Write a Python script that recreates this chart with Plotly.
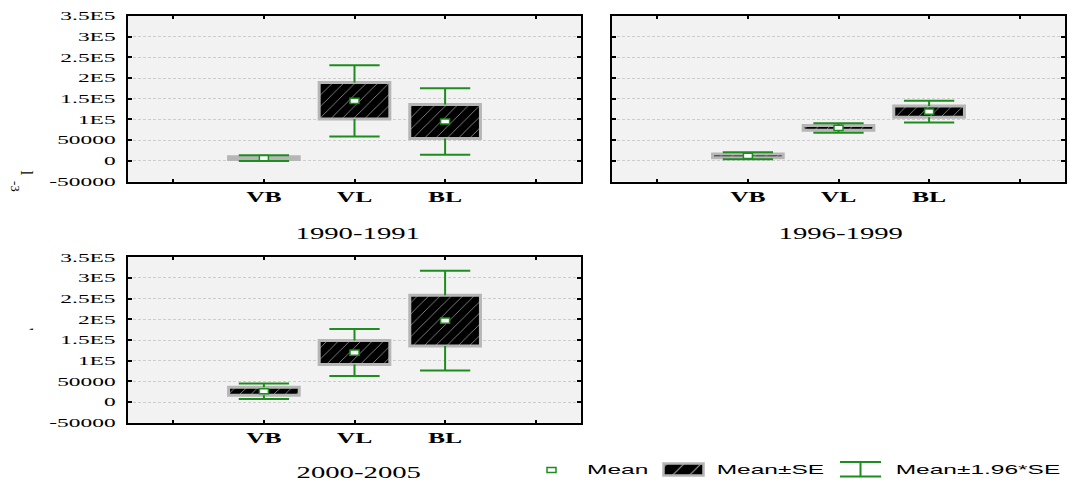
import json
import plotly.graph_objects as go

# ---- data -------------------------------------------------------------
categories = ["VB", "VL", "BL"]
periods = ["1990-1991", "1996-1999", "2000-2005"]

mean_1990 = [6500, 145000, 95000]
se_1990 = [3500, 44000, 41000]
mean_1996 = [12000, 79500, 119000]
se_1996 = [4300, 5900, 13500]
mean_2000 = [26000, 119500, 197000]
se_2000 = [9500, 29000, 61500]

y_tickvals = [-50000, 0, 50000, 100000, 150000, 200000, 250000, 300000, 350000]
y_ticktext = ["-50000", "0", "50000", "1E5", "1.5E5", "2E5", "2.5E5", "3E5", "3.5E5"]
legend_labels = ["Mean", "Mean±SE", "Mean±1.96*SE"]
Z = 1.96

# ---- styling ----------------------------------------------------------
W, H = 1070, 481
GREEN = "#1e8c1e"
BOX_EDGE = "#b6b6b6"
PANEL_BG = "#f2f2f2"
SERIF = "Liberation Serif, Times New Roman, serif"
SANS = "Liberation Sans, Arial, sans-serif"
HATCH = dict(shape="/", bgcolor="black", fgcolor="#9a9a9a", size=8,
             solidity=0.1, fillmode="replace")
BOX_W = 0.78
CAP_HALF = 0.2775


def px_x(px):
    return px / W


def px_y(py):
    return 1 - py / H


panels = [
    dict(mean=mean_1990, se=se_1990, xa="x", ya="y", title=periods[0],
         dom_x=(128, 581), dom_y=(16, 181.5), title_xy=(358, 233.5), labels=True),
    dict(mean=mean_1996, se=se_1996, xa="x2", ya="y2", title=periods[1],
         dom_x=(612, 1065), dom_y=(16, 181.5), title_xy=(841, 233.5), labels=False),
    dict(mean=mean_2000, se=se_2000, xa="x3", ya="y3", title=periods[2],
         dom_x=(128, 581), dom_y=(257.3, 422.7), title_xy=(359, 472.5), labels=True),
]

fig = go.Figure()
shapes = []
annotations = []
positions = list(range(1, len(categories) + 1))

for i, p in enumerate(panels):
    lo_se = [m - s for m, s in zip(p["mean"], p["se"])]
    hi_se = [m + s for m, s in zip(p["mean"], p["se"])]
    lo_ci = [m - Z * s for m, s in zip(p["mean"], p["se"])]
    hi_ci = [m + Z * s for m, s in zip(p["mean"], p["se"])]

    # whiskers (stems outside the box, plus caps)
    wx, wy = [], []
    for xp, a, b, c, d in zip(positions, lo_ci, lo_se, hi_se, hi_ci):
        wx += [xp, xp, None, xp, xp, None,
               xp - CAP_HALF, xp + CAP_HALF, None, xp - CAP_HALF, xp + CAP_HALF, None]
        wy += [a, b, None, c, d, None, a, a, None, d, d, None]
    fig.add_trace(go.Scatter(x=wx, y=wy, mode="lines", xaxis=p["xa"], yaxis=p["ya"],
                             line=dict(color=GREEN, width=2), hoverinfo="skip",
                             showlegend=False))

    # Mean±SE box
    fig.add_trace(go.Bar(x=positions, base=lo_se, y=[2 * s for s in p["se"]],
                         width=BOX_W, xaxis=p["xa"], yaxis=p["ya"],
                         marker=dict(color="black", pattern=HATCH,
                                     line=dict(color=BOX_EDGE, width=3)),
                         hoverinfo="skip", showlegend=False))

    # mean marker: small white rectangle with green outline
    for xp, m in zip(positions, p["mean"]):
        shapes.append(dict(type="rect", xref=p["xa"], yref=p["ya"],
                           xsizemode="pixel", xanchor=xp, x0=-4.5, x1=4.5,
                           ysizemode="pixel", yanchor=m, y0=-2.6, y1=2.6,
                           fillcolor="white", line=dict(color=GREEN, width=1.5),
                           layer="above"))

    # panel background
    shapes.append(dict(type="rect", xref=f"{p['xa']} domain", yref=f"{p['ya']} domain",
                       x0=0, x1=1, y0=0, y1=1, fillcolor=PANEL_BG,
                       line=dict(width=0), layer="below"))

    suffix = "" if i == 0 else str(i + 1)
    fig.update_layout(**{
        f"xaxis{suffix}": dict(
            domain=[px_x(p["dom_x"][0]), px_x(p["dom_x"][1])],
            anchor=p["ya"], range=[-0.5, len(categories) + 1.5],
            tickmode="array", tickvals=list(range(0, len(categories) + 2)),
            ticktext=[""] + categories + [""],
            showgrid=False, zeroline=False, showline=True, mirror="ticks",
            linecolor="black", linewidth=2, ticks="inside", ticklen=3,
            tickwidth=2, tickcolor="black", automargin=False,
            ticklabelstandoff=0,
            tickfont=dict(family=SERIF, size=15.5, color="black", weight="bold"),
            fixedrange=True),
        f"yaxis{suffix}": dict(
            domain=[px_y(p["dom_y"][1]), px_y(p["dom_y"][0])],
            anchor=p["xa"], range=[y_tickvals[0], y_tickvals[-1]],
            tickmode="array", tickvals=y_tickvals, ticktext=y_ticktext,
            showticklabels=p["labels"],
            showgrid=True, gridcolor="#cdcdcd", gridwidth=1, griddash="3px,2px",
            zeroline=False, showline=True, mirror="ticks",
            linecolor="black", linewidth=2, ticks="inside", ticklen=4,
            tickwidth=2, tickcolor="black", automargin=False,
            ticklabelstandoff=8,
            tickfont=dict(family=SERIF, size=12, color="black"),
            fixedrange=True),
    })

    annotations.append(dict(text=p["title"], xref="paper", yref="paper",
                            x=px_x(p["title_xy"][0]), y=px_y(p["title_xy"][1]),
                            xanchor="center", yanchor="middle", showarrow=False,
                            font=dict(family=SERIF, size=16.5, color="black")))

# ---- legend, drawn in a hidden pixel-scaled subplot ------------------
fig.update_layout(
    xaxis4=dict(domain=[px_x(540), px_x(900)], range=[540, 900], visible=False,
                anchor="y4", fixedrange=True),
    yaxis4=dict(domain=[px_y(481), px_y(455)], range=[481, 455], visible=False,
                anchor="x4", fixedrange=True),
)
shapes.append(dict(type="rect", xref="x4", yref="y4", x0=547, x1=556, y0=467.5,
                   y1=472.5, fillcolor="white", line=dict(color=GREEN, width=1.5)))
fig.add_trace(go.Bar(x=[683.5], base=[463.5], y=[12], width=40, xaxis="x4", yaxis="y4",
                     marker=dict(color="black", pattern=dict(HATCH, size=12),
                                 line=dict(color=BOX_EDGE, width=2.5)),
                     hoverinfo="skip", showlegend=False))
fig.add_trace(go.Scatter(x=[840, 881, None, 840, 881, None, 860.5, 860.5],
                         y=[462, 462, None, 476.5, 476.5, None, 462, 476.5],
                         mode="lines", xaxis="x4", yaxis="y4",
                         line=dict(color=GREEN, width=2), hoverinfo="skip",
                         showlegend=False))
for label, cx in zip(legend_labels, [617.5, 770.7, 977.5]):
    annotations.append(dict(text=label, xref="paper", yref="paper",
                            x=px_x(cx), y=px_y(469.5), xanchor="center",
                            yanchor="middle", showarrow=False,
                            font=dict(family=SANS, size=12.5, color="black")))

# clipped fragments of the rotated axis titles at the far left
annotations.append(dict(text="l", xref="paper", yref="paper", x=px_x(25.5), y=px_y(173),
                        xanchor="center", yanchor="middle", showarrow=False,
                        textangle=90, font=dict(family=SERIF, size=17, color="black")))
annotations.append(dict(text="-3", xref="paper", yref="paper", x=px_x(16), y=px_y(186),
                        xanchor="center", yanchor="middle", showarrow=False,
                        textangle=90, font=dict(family=SERIF, size=13, color="black")))
annotations.append(dict(text="'", xref="paper", yref="paper", x=px_x(28), y=px_y(329),
                        xanchor="center", yanchor="middle", showarrow=False,
                        textangle=90, font=dict(family=SERIF, size=14, color="black")))

fig.update_layout(
    width=W, height=H, autosize=False,
    margin=dict(l=0, r=0, t=0, b=0, pad=0),
    paper_bgcolor="white", plot_bgcolor="rgba(0,0,0,0)",
    barmode="overlay", hovermode=False, showlegend=False,
    shapes=shapes, annotations=annotations,
)

# horizontal widening of the wide-set lettering
widen_factors = {"xtick": 1.65, "ytick": 1.95,
                 "ann": {**{t: 1.74 for t in periods}, **{t: 1.96 for t in legend_labels}}}
post = """
var gd = document.querySelector('.js-plotly-plot') || document.querySelector('.plotly-graph-div');
var F = %s;
function widen() {
  gd.querySelectorAll('text').forEach(function (t) {
    var f = 1;
    var cls = (t.parentNode && t.parentNode.getAttribute && t.parentNode.getAttribute('class')) || '';
    if (/^x\\d*tick$/.test(cls)) f = F.xtick;
    else if (/^y\\d*tick$/.test(cls)) f = F.ytick;
    else if (t.classList.contains('annotation-text')) f = F.ann[t.textContent] || 1;
    if (f === 1) return;
    var cur = t.getAttribute('transform') || '';
    if (t.getAttribute('data-applied') === cur) return;
    var x = parseFloat(t.getAttribute('x')) || 0;
    var nt = cur + ' translate(' + x + ',0) scale(' + f + ',1) translate(' + (-x) + ',0)';
    t.setAttribute('transform', nt);
    t.setAttribute('data-applied', nt);
  });
}
widen();
if (gd.on) gd.on('plotly_afterplot', widen);
setTimeout(widen, 100);
""" % json.dumps(widen_factors)

fig.write_html("out.html", config={"displayModeBar": False, "staticPlot": True},
               post_script=post)
